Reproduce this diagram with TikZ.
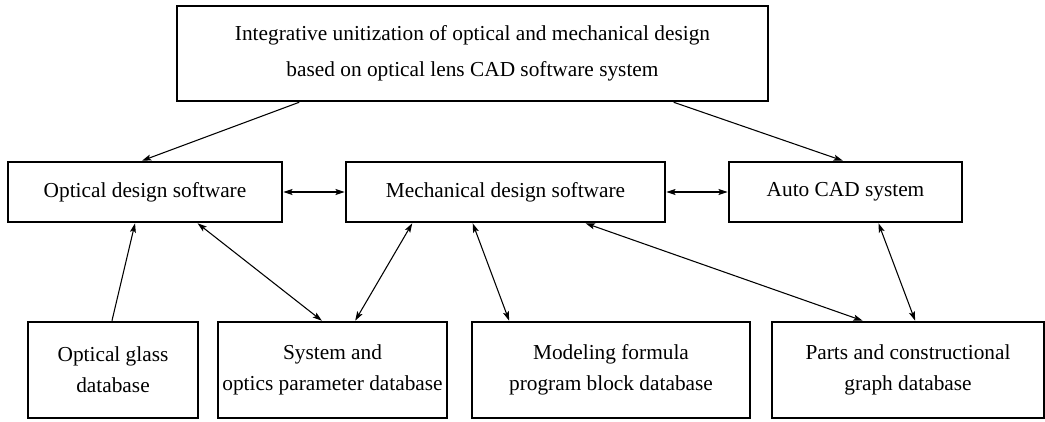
\documentclass[tikz,border=0pt]{standalone}
\usepackage{fontspec}
\setmainfont{Liberation Serif}
\usetikzlibrary{arrows.meta,calc}

\tikzset{
  box/.style={draw, line width=1.9pt, inner sep=0pt, align=center,
    font=\fontsize{16}{23}\selectfont},
  headbox/.style={box, font=\fontsize{16}{27}\selectfont},
  link/.style={line width=0.8pt, {Stealth[length=7pt,width=4.5pt,inset=1.5pt]}-{Stealth[length=7pt,width=4.5pt,inset=1.5pt]}},
  onelink/.style={line width=0.8pt, -{Stealth[length=7pt,width=4.5pt,inset=1.5pt]}},
}

\begin{document}
\begin{tikzpicture}[x=0.75pt, y=-0.75pt]
  \useasboundingbox (0,0) rectangle (1045,421);

  % top level
  \node[headbox, minimum width=443.25pt, minimum height=71.25pt] (top) at (472.5,53.5)
    {Integrative unitization of optical and mechanical design\\based on optical lens CAD software system};

  % software row
  \node[box, minimum width=205.5pt, minimum height=45pt] (opt) at (145,192) {Optical design software};
  \node[box, minimum width=239.25pt, minimum height=45pt] (mech) at (505.5,192) {Mechanical design software};
  \node[box, minimum width=174.75pt, minimum height=45pt] (acad) at (845.5,192) {Auto CAD system};

  % database row
  \node[box, minimum width=127.5pt, minimum height=72pt] (glass) at (113,370) {Optical glass\\database};
  \node[box, minimum width=171.75pt, minimum height=72pt] (sys) at (332.5,370) {System and\\optics parameter database};
  \node[box, minimum width=208.5pt, minimum height=72pt] (model) at (611,370) {Modeling formula\\program block database};
  \node[box, minimum width=204pt, minimum height=72pt] (parts) at (908,370) {Parts and constructional\\graph database};

  % top level to software
  \draw[onelink] ($(top.south west)!0.208!(top.south east)$) -- ($(opt.north west)!0.489!(opt.north east)$);
  \draw[onelink] ($(top.south west)!0.839!(top.south east)$) -- ($(acad.north west)!0.489!(acad.north east)$);

  % between software
  \draw[link] (opt.east) -- (mech.west);
  \draw[link] (mech.east) -- (acad.west);

  % databases to software
  \draw[onelink] ($(glass.north west)!0.494!(glass.north east)$) -- ($(opt.south west)!0.464!(opt.south east)$);
  \draw[link] ($(opt.south west)!0.69!(opt.south east)$) -- ($(sys.north west)!0.454!(sys.north east)$);
  \draw[link] ($(sys.north west)!0.598!(sys.north east)$) -- ($(mech.south west)!0.21!(mech.south east)$);
  \draw[link] ($(mech.south west)!0.398!(mech.south east)$) -- ($(model.north west)!0.137!(model.north east)$);
  \draw[link] ($(mech.south west)!0.749!(mech.south east)$) -- ($(parts.north west)!0.335!(parts.north east)$);
  \draw[link] ($(acad.south west)!0.64!(acad.south east)$) -- ($(parts.north west)!0.526!(parts.north east)$);
\end{tikzpicture}
\end{document}
